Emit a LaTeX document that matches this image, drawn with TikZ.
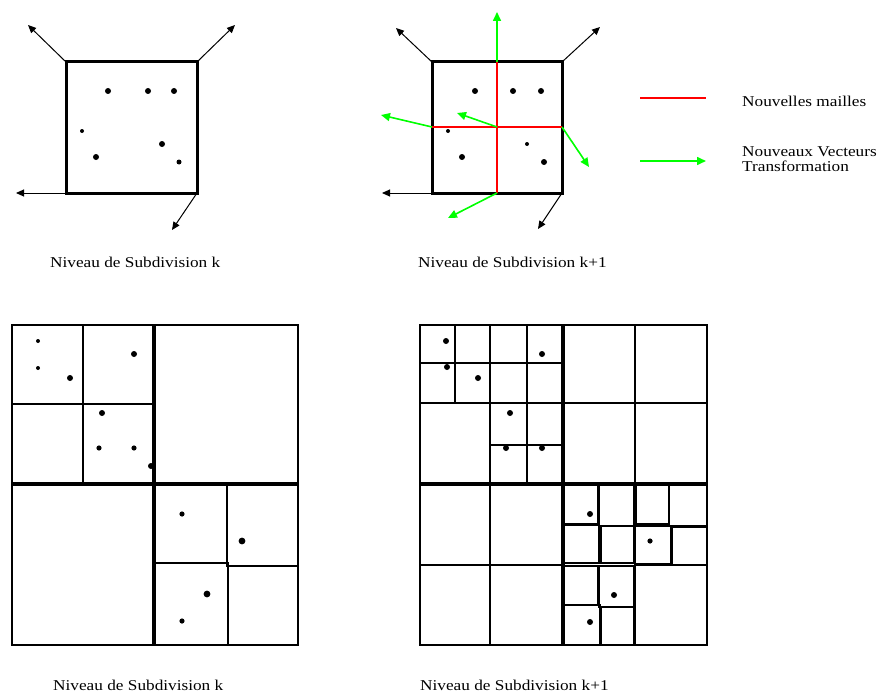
\documentclass[tikz,border=0pt]{standalone}
\usepackage{fontspec}
\setmainfont{Liberation Serif}[FakeStretch=1.15]
\usetikzlibrary{arrows.meta}
\definecolor{meshred}{RGB}{255,0,0}
\definecolor{vecgreen}{RGB}{0,255,0}

\begin{document}
\begin{tikzpicture}[x=1pt, y=-1pt,
    caption/.style={anchor=west, inner sep=0pt, font=\fontsize{15}{15}\selectfont},
    border/.style={line width=3pt},
    frame/.style={line width=2pt},
    heavy/.style={line width=3.4pt},
    medium/.style={line width=2.6pt},
    fine/.style={line width=1.5pt},
    oldvec/.style={line width=1pt, -{Triangle[length=8pt,width=7pt]}},
    newvec/.style={vecgreen, line width=1.6pt, -{Triangle[length=9pt,width=8pt]}},
    newmesh/.style={meshred, line width=1.4pt}
]
\useasboundingbox (0,0) rectangle (879,693);

% Level k, one cell
\draw[border] (66,62) rectangle (197,193);
\draw[oldvec] (66,62) -- (28,25);
\draw[oldvec] (197,62) -- (235,25);
\draw[oldvec] (66,193) -- (16,193);
\draw[oldvec] (197,193) -- (172,230);
\fill (108,91) circle (3) (148,91) circle (3) (174,91) circle (3)
      (82,131) circle (2) (96,157) circle (3) (162,144) circle (3)
      (179,162) circle (2.5);
\node[caption] (capA) at (50,262) {Niveau de Subdivision k};

% Level k+1, cell cut in four
\draw[border] (432,62) rectangle (562,193);
\draw[newmesh] (497,62) -- (497,193);
\draw[newmesh] (432,127) -- (562,127);
\draw[oldvec] (432,62) -- (396,28);
\draw[oldvec] (562,62) -- (600,27);
\draw[oldvec] (432,193) -- (382,193);
\draw[oldvec] (562,193) -- (538,229);
\draw[newvec] (497,62) -- (497,12);
\draw[newvec] (432,127) -- (381,115);
\draw[newvec] (497,127) -- (457,113);
\draw[newvec] (562,127) -- (589,167);
\draw[newvec] (497,193) -- (448,218);
\fill (475,91) circle (3) (513,91) circle (3) (541,91) circle (3)
      (448,131) circle (2) (462,157) circle (3) (527,144) circle (2)
      (544,162) circle (3);
\node[caption] (capB) at (418,262) {Niveau de Subdivision k+1};

% Legend
\draw[newmesh] (640,98) -- (706,98);
\node[caption] (legMesh) at (742,101) {Nouvelles mailles};
\draw[newvec] (640,161) -- (706,161);
\node[caption, align=left] (legVec) at (742,159) {Nouveaux Vecteurs\\Transformation};

% Level k, whole grid
\draw[frame] (12,325) rectangle (298,645);
\draw[heavy] (154,325) -- (154,645);
\draw[heavy] (12,484) -- (298,484);
\draw[medium] (83,325) -- (83,484);
\draw[medium] (12,404) -- (154,404);
\draw[fine] (154,484) rectangle (227,563);
\draw[fine] (227,484) rectangle (298,566);
\draw[fine] (154,563) rectangle (228,645);
\draw[fine] (228,566) rectangle (298,645);
\fill (38,341) circle (2) (38,368) circle (2) (70,378) circle (3)
      (134,354) circle (3) (102,413) circle (3) (99,448) circle (2.6)
      (134,448) circle (2.6) (151,466) circle (3)
      (182,514) circle (2.6) (242,541) circle (3.4) (207,594) circle (3.4)
      (182,621) circle (2.6);
\node[caption] (capC) at (53,685) {Niveau de Subdivision k};

% Level k+1, whole grid
\draw[frame] (420,325) rectangle (707,645);
\draw[heavy] (563,325) -- (563,645);
\draw[heavy] (420,484) -- (707,484);
\draw[medium] (490,325) -- (490,484);
\draw[medium] (420,403) -- (707,403);
\draw[medium] (635,325) -- (635,484);
\draw[medium] (455,325) -- (455,403);
\draw[medium] (527,325) -- (527,484);
\draw[medium] (420,363) -- (563,363);
\draw[medium] (490,445) -- (563,445);
\draw[medium] (490,484) -- (490,645);
\draw[medium] (420,565) -- (563,565);
\draw[medium] (635,484) -- (635,645);
\draw[medium] (635,565) -- (707,565);
\draw[fine] (563,485) rectangle (598,524);
\draw[fine] (599,485) rectangle (634,526);
\draw[fine] (563,525) rectangle (599,563);
\draw[fine] (601,526) rectangle (634,563);
\draw[fine] (636,485) rectangle (669,524);
\draw[fine] (669,485) rectangle (707,526);
\draw[fine] (635,526) rectangle (671,564);
\draw[fine] (672,527) rectangle (707,565);
\draw[fine] (563,566) rectangle (598,605);
\draw[fine] (599,566) rectangle (634,607);
\draw[fine] (563,605) rectangle (600,645);
\draw[fine] (601,607) rectangle (634,645);
\fill (446,341) circle (3) (447,367) circle (3) (478,378) circle (3)
      (542,354) circle (3) (510,413) circle (3) (506,448) circle (3)
      (542,448) circle (3)
      (590,514) circle (3) (650,541) circle (2.6) (614,595) circle (3)
      (590,622) circle (3);
\node[caption] (capD) at (420,685) {Niveau de Subdivision k+1};

\end{tikzpicture}
\end{document}
